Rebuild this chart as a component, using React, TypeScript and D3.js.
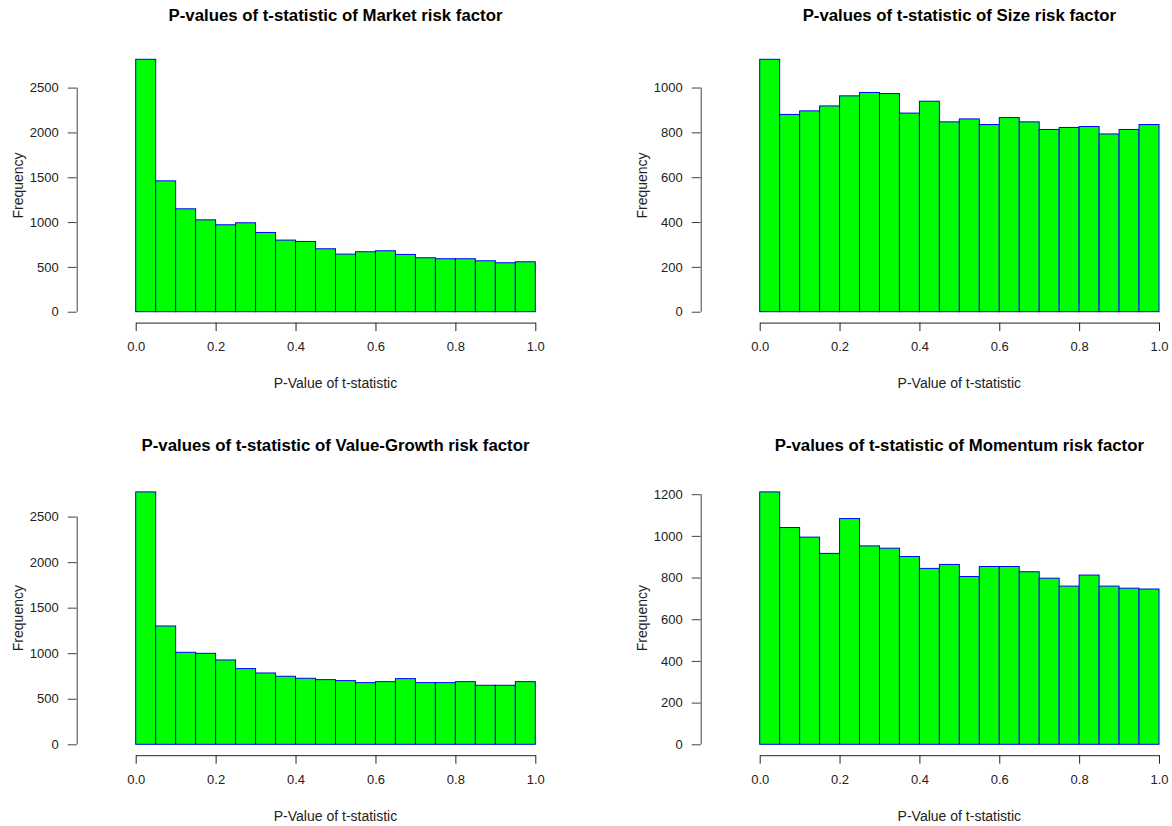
import React, { useEffect, useRef } from "react";
import * as d3 from "d3";

// histogram bin edges (20 bins of width 0.05)
const binEdges = d3.range(0, 21).map((i) => i / 20);

const marketCounts = [2816, 1460, 1148, 1025, 970, 992, 884, 799, 784, 702, 643, 669, 680, 639, 602, 591, 591, 568, 546, 557];
const sizeCounts = [1126, 880, 896, 918, 963, 978, 973, 886, 939, 847, 860, 835, 866, 847, 813, 822, 826, 793, 813, 835];
const valueGrowthCounts = [2771, 1299, 1010, 999, 926, 831, 783, 747, 725, 710, 699, 677, 688, 721, 677, 677, 688, 648, 648, 688];
const momentumCounts = [1211, 1040, 994, 916, 1083, 952, 941, 901, 844, 863, 805, 853, 853, 828, 797, 759, 812, 759, 749, 745];

const yTicksBig = [0, 500, 1000, 1500, 2000, 2500];
const yTicksSize = [0, 200, 400, 600, 800, 1000];
const yTicksMom = [0, 200, 400, 600, 800, 1000, 1200];
const xTicks = [0, 0.2, 0.4, 0.6, 0.8, 1.0];

const titles = [
  "P-values of t-statistic of Market risk factor",
  "P-values of t-statistic of Size risk factor",
  "P-values of t-statistic of Value-Growth risk factor",
  "P-values of t-statistic of Momentum risk factor",
];

const panels = [
  { title: titles[0], counts: marketCounts, yTicks: yTicksBig, col: 0, row: 0 },
  { title: titles[1], counts: sizeCounts, yTicks: yTicksSize, col: 1, row: 0 },
  { title: titles[2], counts: valueGrowthCounts, yTicks: yTicksBig, col: 0, row: 1 },
  { title: titles[3], counts: momentumCounts, yTicks: yTicksMom, col: 1, row: 1 },
];

const W = 1172;
const H = 826;
const FONT = "'Liberation Sans', Arial, sans-serif";

// R-like layout
const cols = [
  { x0: 135.7, x1: 535.3 },
  { x0: 759.7, x1: 1159 },
];
const rows = [
  { top: 49.2, bottom: 321.8, titleY: 21 },
  { top: 481.8, bottom: 754.4, titleY: 451 },
];

const App: React.FC = () => {
  const svgRef = useRef<SVGSVGElement | null>(null);

  useEffect(() => {
    if (!svgRef.current) return;
    const svg = d3.select(svgRef.current);
    svg.selectAll("*").remove();

    svg.append("rect").attr("width", W).attr("height", H).attr("fill", "#fff");

    panels.forEach((p) => {
      const c = cols[p.col];
      const r = rows[p.row];
      const m = d3.max(p.counts) || 1;

      const x = d3.scaleLinear().domain([0, 1]).range([c.x0, c.x1]);
      // yaxs = "r": 4% extension on both sides
      const y = d3.scaleLinear().domain([-0.04 * m, 1.04 * m]).range([r.bottom, r.top]);

      const g = svg.append("g");

      // bars
      g.selectAll(".bar")
        .data(p.counts)
        .join("rect")
        .attr("class", "bar")
        .attr("x", (_, i) => x(binEdges[i]))
        .attr("width", (_, i) => x(binEdges[i + 1]) - x(binEdges[i]))
        .attr("y", (d) => y(d))
        .attr("height", (d) => y(0) - y(d))
        .attr("fill", "#00ff00")
        .attr("stroke", "#0000ff")
        .attr("stroke-width", 1);

      // x axis
      const xAxisY = r.bottom + 0.8;
      g.append("g")
        .attr("transform", `translate(0,${xAxisY})`)
        .call(d3.axisBottom(x).tickValues(xTicks).tickSize(8.5).tickSizeOuter(0).tickPadding(11).tickFormat(d3.format(".1f")))
        .call((a) => a.select(".domain").attr("stroke", "#222"))
        .call((a) => a.selectAll(".tick line").attr("stroke", "#222"))
        .call((a) =>
          a.selectAll(".tick text")
            .attr("fill", "#222")
            .attr("font-family", FONT)
            .attr("font-size", "13px")
        );

      // y axis, sitting left of the bars; line only spans the ticks (R style)
      const yAxisX = c.x0 - 59;
      const yAxis = g.append("g")
        .attr("transform", `translate(${yAxisX},0)`)
        .call(d3.axisLeft(y).tickValues(p.yTicks).tickSize(9).tickSizeOuter(0).tickPadding(9).tickFormat(d3.format("d")))
        .call((a) => a.select(".domain").remove())
        .call((a) => a.selectAll(".tick line").attr("stroke", "#444"))
        .call((a) =>
          a.selectAll(".tick text")
            .attr("fill", "#222")
            .attr("font-family", FONT)
            .attr("font-size", "13px")
        );
      yAxis.append("line")
        .attr("x1", 0.5)
        .attr("x2", 0.5)
        .attr("y1", y(p.yTicks[0]))
        .attr("y2", y(p.yTicks[p.yTicks.length - 1]))
        .attr("stroke", "#444");

      // title
      g.append("text")
        .attr("x", (c.x0 + c.x1) / 2)
        .attr("y", r.titleY)
        .attr("text-anchor", "middle")
        .attr("font-family", FONT)
        .attr("font-weight", "bold")
        .attr("font-size", "16.8px")
        .attr("fill", "#000")
        .text(p.title);

      // x label
      g.append("text")
        .attr("x", (c.x0 + c.x1) / 2)
        .attr("y", xAxisY + 65.5)
        .attr("text-anchor", "middle")
        .attr("font-family", FONT)
        .attr("font-size", "14px")
        .attr("fill", "#222")
        .text("P-Value of t-statistic");

      // y label
      const cy = (r.top + r.bottom) / 2;
      g.append("text")
        .attr("transform", `translate(${c.x0 - 113},${cy}) rotate(-90)`)
        .attr("text-anchor", "middle")
        .attr("font-family", FONT)
        .attr("font-size", "14px")
        .attr("fill", "#222")
        .text("Frequency");
    });
  }, []);

  return (
    <div style={{ position: "absolute", left: 0, top: 0, width: W, height: H }}>
      <svg ref={svgRef} width={W} height={H} style={{ display: "block" }}></svg>
    </div>
  );
};

export default App;
